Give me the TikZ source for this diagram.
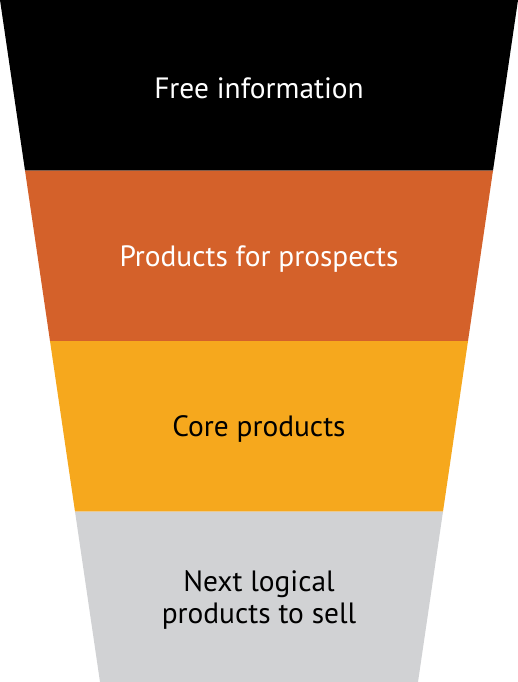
\documentclass[tikz,border=0pt]{standalone}
\usepackage{fontspec}
\setmainfont{PT Sans}
\usepackage{xcolor}
\usetikzlibrary{positioning}

\definecolor{bandblack}{HTML}{000000}
\definecolor{bandorange}{HTML}{D4612A}
\definecolor{bandyellow}{HTML}{F6A81D}
\definecolor{bandgray}{HTML}{D1D2D4}

\begin{document}
\begin{tikzpicture}[
  x=1bp, y=-1bp,
  font=\fontsize{29.5}{32}\selectfont,
  every node/.style={align=center},
  label/.style={text=white},
  darklabel/.style={text=black}
]

%% Parameters
\def\W{518}   % top width of the funnel
\def\B{170.5} % band height
\def\I{25}    % inset per band on each side
\def\D{3}     % small downward nudge of the labels

\useasboundingbox (0,0) rectangle (\W,682);

%% ---- Funnel bands ----
\fill[bandblack]
  (0,0) -- (\W,0) -- (\W-\I,\B) -- (\I,\B) -- cycle;
\fill[bandorange]
  (\I,\B) -- (\W-\I,\B) -- (\W-2*\I,2*\B) -- (2*\I,2*\B) -- cycle;
\fill[bandyellow]
  (2*\I,2*\B) -- (\W-2*\I,2*\B) -- (\W-3*\I,3*\B) -- (3*\I,3*\B) -- cycle;
\fill[bandgray]
  (3*\I,3*\B) -- (\W-3*\I,3*\B) -- (\W-4*\I,4*\B) -- (4*\I,4*\B) -- cycle;

%% ---- Band labels ----
\node[label]     (free)     at (\W/2, 0.5*\B+\D) {Free information};
\node[label]     (prospect) at (\W/2, 1.5*\B+\D) {Products for prospects};
\node[darklabel] (core)     at (\W/2, 2.5*\B+\D) {Core products};
\node[darklabel] (next)     at (\W/2, 3.5*\B+\D) {Next logical\\products to sell};

\end{tikzpicture}
\end{document}
